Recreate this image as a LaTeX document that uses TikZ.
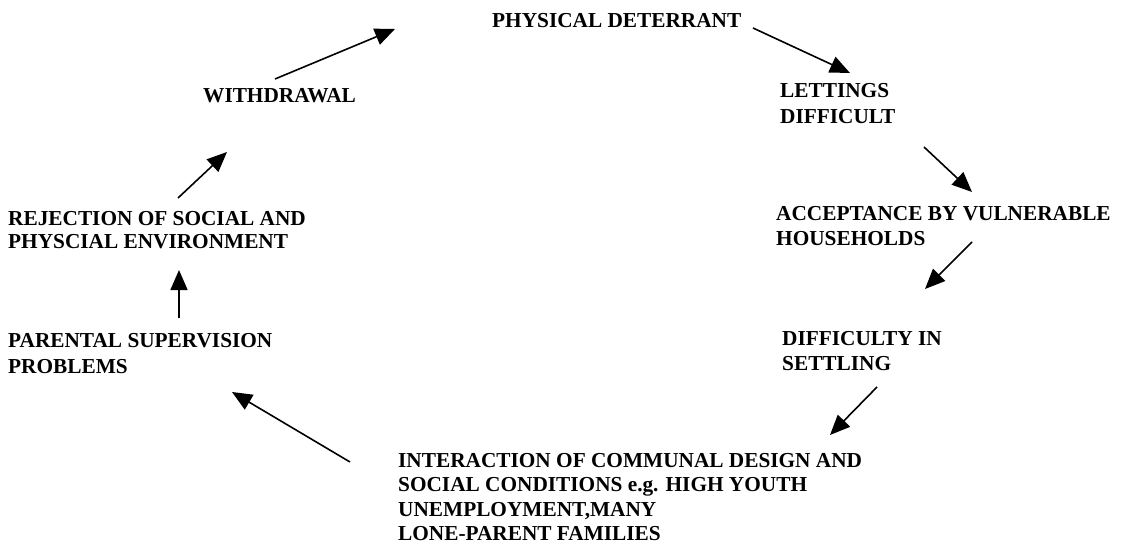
\documentclass[tikz,border=0pt]{standalone}
\usepackage{fontspec}
\setmainfont{Liberation Serif}
\usetikzlibrary{arrows.meta}
\begin{document}
\begin{tikzpicture}[x=1pt,y=-1pt,
  lbl/.style={anchor=north west,inner sep=0pt,align=left,font=\fontsize{21.3}{25}\selectfont\bfseries},
  flow/.style={line width=1.6pt,-{Triangle[length=20pt,width=17pt]}}]
\useasboundingbox[fill=white] (0,0) rectangle (1126,545);
\node[lbl] (phys) at (492,13) {PHYSICAL DETERRANT};
\node[lbl] (with) at (203,88) {WITHDRAWAL};
\node[lbl] (lett) at (780,83) {LETTINGS\\[1pt]DIFFICULT};
\node[lbl] (acc) at (776,206) {ACCEPTANCE BY VULNERABLE\\HOUSEHOLDS};
\node[lbl] (diff) at (782,331) {DIFFICULTY IN\\SETTLING};
\node[lbl] (inter) at (398,453) {INTERACTION OF COMMUNAL DESIGN AND\\[-0.5pt]SOCIAL CONDITIONS e.g. HIGH YOUTH\\[-0.5pt]UNEMPLOYMENT,MANY\\[-0.5pt]LONE-PARENT FAMILIES};
\node[lbl] (rej) at (8,211) {REJECTION OF SOCIAL AND\\[-2pt]PHYSCIAL ENVIRONMENT};
\node[lbl] (par) at (8,333) {PARENTAL SUPERVISION\\[1pt]PROBLEMS};
\coordinate (a1s) at (275,79);  \coordinate (a1e) at (395,29);
\coordinate (a2s) at (753,28);  \coordinate (a2e) at (850,73);
\coordinate (a3s) at (924,147); \coordinate (a3e) at (972,192);
\coordinate (a4s) at (972,242); \coordinate (a4e) at (925,289);
\coordinate (a5s) at (877,387); \coordinate (a5e) at (830,435);
\coordinate (a6s) at (350,462); \coordinate (a6e) at (232,392);
\coordinate (a7s) at (179,318); \coordinate (a7e) at (179,270);
\coordinate (a8s) at (178,198); \coordinate (a8e) at (227,152);
\draw[flow] (a1s) -- (a1e);
\draw[flow] (a2s) -- (a2e);
\draw[flow] (a3s) -- (a3e);
\draw[flow] (a4s) -- (a4e);
\draw[flow] (a5s) -- (a5e);
\draw[flow] (a6s) -- (a6e);
\draw[flow] (a7s) -- (a7e);
\draw[flow] (a8s) -- (a8e);
\end{tikzpicture}
\end{document}
